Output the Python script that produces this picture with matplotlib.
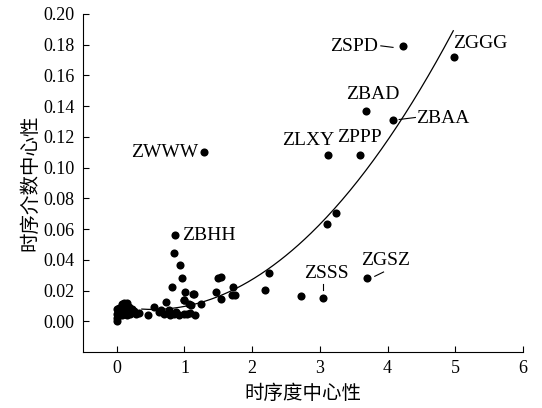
import numpy as np
import matplotlib.pyplot as plt

# labelled airports
names = ["ZSPD", "ZGGG", "ZBAD", "ZBAA", "ZLXY", "ZPPP", "ZWWW", "ZBHH", "ZSSS", "ZGSZ"]
name_x = [4.22, 4.98, 3.68, 4.08, 3.12, 3.59, 1.29, 0.86, 3.04, 3.70]
name_y = [0.179, 0.172, 0.137, 0.131, 0.108, 0.108, 0.110, 0.056, 0.0154, 0.0284]

# unlabelled airports
other_x = [3.24, 3.11, 2.72, 2.25, 2.19, 1.50, 1.54, 1.46, 1.54, 1.71, 1.70, 1.74,
           1.14, 1.07, 1.24, 0.84, 0.93, 0.96, 0.82, 1.01, 1.13, 0.99, 0.72, 0.55,
           1.09, 0.99, 0.62, 0.77, 0.70, 0.84, 0.92, 0.99, 1.08, 1.16, 0.46, 0.33,
           0.25, 0.18, 0.13, 0.08, 0.03, 0.00, 0.00, 0.00, 0.00, 0.02, 0.05, 0.07,
           0.10, 0.12, 0.15, 0.10, 0.20, 0.22, 0.28, 0.06, 0.15, 0.78, 0.88, 1.04, 0.66]
other_y = [0.0708, 0.063, 0.0165, 0.0315, 0.0206, 0.0284, 0.0289, 0.0191, 0.0148, 0.0223, 0.0169, 0.0174,
           0.018, 0.0115, 0.011, 0.0447, 0.0365, 0.0284, 0.0223, 0.0191, 0.0176, 0.0141, 0.0126, 0.0093,
           0.0104, 0.0137, 0.006, 0.0076, 0.005, 0.0046, 0.0044, 0.005, 0.0057, 0.0044, 0.0044, 0.0054,
           0.0067, 0.0093, 0.0115, 0.011, 0.0085, 0.005, 0.000, 0.002, 0.008, 0.004, 0.006, 0.004,
           0.007, 0.005, 0.012, 0.012, 0.005, 0.008, 0.005, 0.009, 0.004, 0.004, 0.006, 0.0045, 0.0075]

# points
curve_x = [0.37, 0.77, 1.66, 2.40, 2.89, 3.29, 3.63, 3.93, 4.18, 4.97]
curve_y = [0.0059, 0.0104, 0.0223, 0.0376, 0.0549, 0.0744, 0.0961, 0.1178, 0.1309, 0.1873]

# label text positions (x, y, ha) and leader lines
label_pos = {
    "ZSPD": (3.86, 0.1786, "right"),
    "ZGGG": (4.97, 0.1808, "left"),
    "ZBAD": (3.78, 0.1476, "center"),
    "ZBAA": (4.42, 0.1320, "left"),
    "ZLXY": (2.83, 0.1178, "center"),
    "ZPPP": (3.59, 0.1196, "center"),
    "ZWWW": (1.20, 0.1098, "right"),
    "ZBHH": (0.97, 0.0560, "left"),
    "ZSSS": (3.09, 0.0310, "center"),
    "ZGSZ": (3.97, 0.0397, "center"),
}
leaders = [
    ([3.90, 4.08], [0.1792, 0.1782]),
    ([4.17, 4.41], [0.1313, 0.1326]),
    ([3.05, 3.05], [0.0241, 0.0202]),
    ([3.81, 3.94], [0.0293, 0.0321]),
]

serif = "Liberation Serif"
cjk = ["Noto Sans CJK SC", "DejaVu Sans"]

fig = plt.figure(figsize=(5.42, 4.08), dpi=100)
ax = fig.add_axes([0.153, 0.137, 0.812, 0.829])

ax.scatter(other_x + name_x, other_y + name_y, s=34, color="black", zorder=3, linewidths=0)

coef = np.polyfit(curve_x, curve_y, 3)
xs = np.linspace(curve_x[0], curve_x[-1], 200)
ax.plot(xs, np.polyval(coef, xs), color="black", lw=0.9)

for n in names:
    tx, ty, ha = label_pos[n]
    ax.text(tx, ty, n, ha=ha, va="center", fontsize=14, family=serif)
for lx, ly in leaders:
    ax.plot(lx, ly, color="black", lw=0.8)

ax.set_xlim(-0.5, 6)
ax.set_ylim(-0.02, 0.20)
ax.set_xticks(range(0, 7))
ax.set_yticks(np.arange(0, 0.201, 0.02))
ax.set_yticklabels([f"{v:.2f}" for v in np.arange(0, 0.201, 0.02)])
ax.tick_params(direction="in", length=4, width=0.8, labelsize=13, pad=6)
for lab in ax.get_xticklabels() + ax.get_yticklabels():
    lab.set_family(serif)
ax.spines["top"].set_visible(False)
ax.spines["right"].set_visible(False)

ax.set_xlabel("时序度中心性", family=cjk, fontsize=14, labelpad=4)
ax.set_ylabel("时序介数中心性", family=cjk, fontsize=14, labelpad=2)

fig.savefig("out.png", dpi=100)
